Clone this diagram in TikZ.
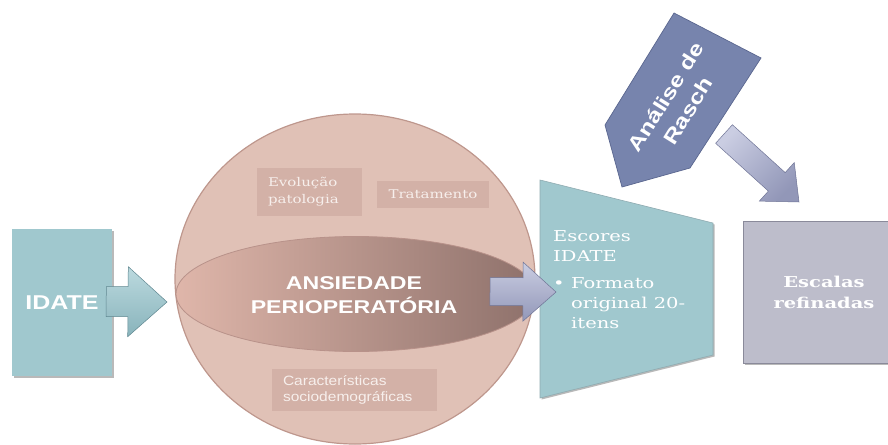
\documentclass[tikz,border=0pt]{standalone}
\usepackage{fontspec}
\usetikzlibrary{shapes.geometric,calc}
\newfontfamily\sansW[FakeStretch=1.25]{Liberation Sans}
\newfontfamily\sansN[FakeStretch=1.15]{Liberation Sans}
\newfontfamily\serifW[FakeStretch=1.3]{DejaVu Serif}
\newfontfamily\serifN[FakeStretch=1.25]{DejaVu Serif}
\definecolor{sphC}{HTML}{E0C1B6}
\definecolor{sphE}{HTML}{BE978D}
\definecolor{boxC}{HTML}{D3B1A7}
\definecolor{bandL}{HTML}{DFB6AA}
\definecolor{bandR}{HTML}{8E716B}
\definecolor{bandE}{HTML}{B8928A}
\definecolor{tealC}{HTML}{A0C8CE}
\definecolor{tealT}{HTML}{BCDADF}
\definecolor{tealB}{HTML}{88B3BB}
\definecolor{tealE}{HTML}{5F8790}
\definecolor{lavC}{HTML}{AAAECB}
\definecolor{lavT}{HTML}{CACDE2}
\definecolor{lavB}{HTML}{9297B8}
\definecolor{lavE}{HTML}{6F7496}
\definecolor{raschC}{HTML}{7784AD}
\definecolor{raschE}{HTML}{5A668F}
\definecolor{greyC}{HTML}{BDBDCB}
\definecolor{greyE}{HTML}{8A8A9A}
\definecolor{txtL}{HTML}{F7EFEC}
% block arrow: #1 options, #2 start, #3 tip, #4 shaft half width, #5 head half width, #6 head length
\newcommand\blockarrow[6]{%
  \path ($(#3)!#6!(#2)$) coordinate (bkn);
  \shadedraw[#1] ($(#2)!#4!90:(#3)$) -- ($(bkn)!#4!90:(#3)$) -- ($(bkn)!#5!90:(#3)$) -- (#3)
    -- ($(bkn)!#5!-90:(#3)$) -- ($(bkn)!#4!-90:(#3)$) -- ($(#2)!#4!-90:(#3)$) -- cycle;}
\begin{document}
\begin{tikzpicture}[x=1pt,y=-1pt,
  sbox/.style={fill=boxC, inner sep=0pt, text=txtL},
  shadowfill/.style={fill=black!55, fill opacity=0.5}]
\useasboundingbox (0,0) rectangle (888,444);

% ---------- sphere ----------
\node[ellipse, fill=sphC, draw=sphE, line width=1.2pt, minimum width=360pt, minimum height=330pt, inner sep=0pt] (sphere) at (355,279) {};
\node[ellipse, left color=bandL, right color=bandR, draw=bandE, line width=0.8pt,
      minimum width=360pt, minimum height=115pt, inner sep=0pt] (band) at (356,294) {};
\node[align=center, text=white, inner sep=0pt,
      font={\sansW\bfseries\fontsize{18.5}{24}\selectfont}] (anstxt) at (354,295)
  {ANSIEDADE\\PERIOPERATÓRIA};

\node[sbox, minimum width=105pt, minimum height=48pt, text width=83pt, align=left,
      font={\serifN\fontsize{12}{17}\selectfont}] (evol) at (309.5,192)
  {Evolução\\patologia};
\node[sbox, minimum width=112pt, minimum height=27pt, align=center,
      font={\serifN\fontsize{12}{17}\selectfont}] (trat) at (433,194.5)
  {Tratamento};
\node[sbox, minimum width=165pt, minimum height=42pt, text width=143pt, align=left,
      font={\sansN\fontsize{13.5}{16}\selectfont}] (carac) at (354.5,390)
  {Características\\sociodemográficas};

% ---------- IDATE box ----------
\fill[shadowfill] (13.5,230.5) rectangle (113.5,377.5);
\node[fill=tealC, minimum width=100pt, minimum height=147pt, inner sep=0pt, text=white,
      font={\sansW\bfseries\fontsize{20}{24}\selectfont}] (idate) at (62,302.5)
  {IDATE};
\coordinate (a1s) at ($(idate.east)+(-6,-1)$);
\coordinate (a1t) at (167,302);
\blockarrow{top color=tealT, bottom color=tealB, draw=tealE, line width=0.5pt}{a1s}{a1t}{15pt}{35pt}{39pt}

% ---------- trapezoid ----------
\fill[shadowfill] (541.5,181.5) -- (714.5,224.5) -- (714.5,356.5) -- (541.5,399.5) -- cycle;
\filldraw[fill=tealC, draw=tealE!70, line width=0.6pt] (540,180) -- (713,223) -- (713,355) -- (540,398) -- cycle;
\node[anchor=north west, align=left, text=white, inner sep=0pt,
      font={\serifW\fontsize{15}{20}\selectfont}] (escores) at (553,230)
  {Escores\\IDATE\\[7pt]%
   \makebox[18pt][l]{\textbullet}Formato\\\hspace*{18pt}original 20-\\\hspace*{18pt}itens};

\coordinate (a2s) at (490,291.5);
\coordinate (a2t) at (556,292);
\blockarrow{top color=lavT, bottom color=lavB, draw=lavE, line width=0.5pt}{a2s}{a2t}{14pt}{29.5pt}{33pt}

% ---------- Rasch ----------
\filldraw[fill=raschC, draw=raschE, line width=0.7pt] (674,13) -- (761,58) -- (690,168) -- (622,187) -- (605,125) -- cycle;
\node[rotate=58, align=center, text=white, inner sep=0pt,
      font={\sansW\bfseries\fontsize{20}{26}\selectfont}] (rasch) at (677,104)
  {Análise de\\Rasch};

\coordinate (a3s) at (724,134);
\coordinate (a3t) at (799,202);
\blockarrow{top color=lavT, bottom color=lavB, shading angle=45, draw=lavE, line width=0.5pt}{a3s}{a3t}{12.5pt}{26pt}{30pt}

% ---------- Escalas refinadas ----------
\fill[shadowfill] (744.5,222.5) rectangle (906.5,364.5);
\node[fill=greyC, draw=greyE, line width=0.5pt, minimum width=162pt, minimum height=142pt, inner sep=0pt,
      align=center, text=white, font={\serifW\bfseries\fontsize{15}{21}\selectfont}] (escalas) at (824,292)
  {Escalas\\refinadas};
\end{tikzpicture}
\end{document}
